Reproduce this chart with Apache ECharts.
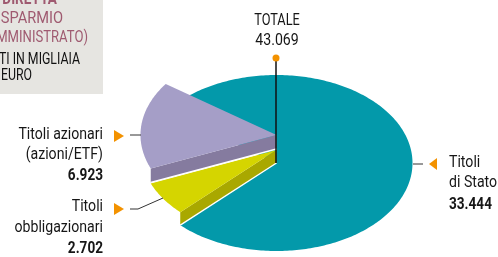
<!DOCTYPE html>
<html>
<head>
<meta charset="utf-8">
<script src="https://cdn.jsdelivr.net/npm/echarts@6/dist/echarts.min.js"></script>
<style>
    html, body { margin: 0; padding: 0; background: #fff; }
    #chart { width: 498px; height: 257px; }
</style>
</head>
<body>
<div id="chart"></div>
<script>
    // dati (migliaia di euro)
    var sliceNames = ['Titoli di Stato', 'Titoli obbligazionari', 'Titoli azionari'];
    var sliceValues = [33444, 2702, 6923];
    var labelLines = [['Titoli', 'di Stato'], ['Titoli', 'obbligazionari'], ['Titoli azionari', '(azioni/ETF)']];
    var valueTexts = ['33.444', '2.702', '6.923'];
    var totalTitle = 'TOTALE';
    var totalText = '43.069';
    var boxLines = ['DIRETTA', 'ISPARMIO', 'MMINISTRATO)', 'TI IN MIGLIAIA', 'EURO'];

    // aspetto
    var FONT = "Roboto, 'Noto Sans', sans-serif";
    var SQUEEZE = 0.83; // il font originale e' condensato
    var cx = 276.5, cy = 163, R = 136, K = 0.647;
    var startClock = -54.5;
    var topColors = ['#0399aa', '#d5d500', '#a59ec7'];
    var sideColors = [null, '#a9a800', '#857b9f'];
    var lift = [0, 13, 28];
    var depth = [0, 13, 14];
    var orange = '#f39200';

    var total = sliceValues.reduce(function (a, b) { return a + b; }, 0);

    function pt(c, r, up) {
        var a = c * Math.PI / 180;
        return [cx + r * Math.sin(a), cy - up - r * K * Math.cos(a)];
    }

    function renderSlice(params, api) {
        var i = params.dataIndex;
        var before = 0;
        for (var j = 0; j < i; j++) before += sliceValues[j];
        var c0 = startClock + before / total * 360;
        var c1 = c0 + api.value(0) / total * 360;
        var up = lift[i], d = depth[i];
        var top = [pt(0, 0, up)];
        for (var c = c0; c < c1; c += 1) top.push(pt(c, R, up));
        top.push(pt(c1, R, up));
        var children = [];
        if (d > 0) {
            var a = pt(c0, 0, up), b = pt(c0, R, up);
            var a2 = [a[0], a[1] + d], b2 = [b[0], b[1] + d];
            children.push({ type: 'polygon', shape: { points: [a, b, b2, a2] }, style: { fill: sideColors[i] } });
            children.push({ type: 'polyline', shape: { points: [a2, b2] }, style: { stroke: '#fff', lineWidth: 1.3, fill: null } });
        }
        children.push({ type: 'polygon', shape: { points: top }, style: { fill: topColors[i] } });
        return { type: 'group', children: children };
    }

    // y = linea di base del testo
    function txt(s, x, y, align, size, weight, color, sq) {
        return {
            type: 'text', z: 10,
            x: x, y: y - size * 0.36,
            scaleX: sq || SQUEEZE,
            style: {
                text: s, x: 0, y: 0, fill: color || '#161616',
                font: (weight || 'normal') + ' ' + size + 'px ' + FONT,
                textAlign: align, textVerticalAlign: 'middle',
                align: align, verticalAlign: 'middle'
            }
        };
    }

    function tri(pts) {
        return { type: 'polygon', z: 10, shape: { points: pts }, style: { fill: orange } };
    }

    function leader(pts) {
        return { type: 'polyline', z: 10, shape: { points: pts }, style: { stroke: '#333', lineWidth: 1, fill: null } };
    }

    var g = [];
    // riquadro grigio
    g.push({ type: 'rect', z: 1, shape: { x: 0, y: 0, width: 103, height: 94 }, style: { fill: '#e6e5e1' } });
    g.push(txt(boxLines[0], 57, 6, 'right', 17, 'bold', '#9f5a70', 0.8));
    g.push(txt(boxLines[1], 63, 25, 'right', 17, 'normal', '#9f5a70', 0.86));
    g.push(txt(boxLines[2], 88, 44, 'right', 17, 'normal', '#9f5a70', 0.77));
    g.push(txt(boxLines[3], 80, 66, 'right', 16, 'normal', '#111', 0.77));
    g.push(txt(boxLines[4], 32, 82, 'right', 16, 'normal', '#111', 0.77));

    // totale
    g.push(txt(totalTitle, 277, 27, 'center', 17, 'normal', null, 0.75));
    g.push(txt(totalText, 277, 47, 'center', 17));
    g.push({ type: 'line', z: 10, shape: { x1: 276, y1: 58, x2: 276, y2: 163 }, style: { stroke: '#111', lineWidth: 1.5 } });
    g.push({ type: 'circle', z: 11, shape: { cx: 276, cy: 58, r: 3.5 }, style: { fill: orange } });

    // Titoli di Stato
    g.push(leader([[413, 164], [423, 164]]));
    g.push(tri([[437, 158], [429, 164], [437, 170]]));
    g.push(txt(labelLines[0][0], 449, 169, 'left', 17));
    g.push(txt(labelLines[0][1], 449, 189, 'left', 17));
    g.push(txt(valueTexts[0], 449, 211, 'left', 17, 'bold', null, 0.8));

    // Titoli azionari
    g.push(leader([[130, 135], [141, 135]]));
    g.push(tri([[114, 130], [124, 136], [114, 142]]));
    g.push(txt(labelLines[2][0], 103, 141, 'right', 17));
    g.push(txt(labelLines[2][1], 103, 161, 'right', 17));
    g.push(txt(valueTexts[2], 103, 182, 'right', 17, 'bold', null, 0.8));

    // Titoli obbligazionari
    g.push(leader([[130, 209], [138, 209], [163, 198]]));
    g.push(tri([[114, 203], [124, 209], [114, 215]]));
    g.push(txt(labelLines[1][0], 103, 213, 'right', 17));
    g.push(txt(labelLines[1][1], 103, 234, 'right', 17));
    g.push(txt(valueTexts[1], 103, 255, 'right', 17, 'bold', null, 0.8));

    var chart = echarts.init(document.getElementById('chart'), null, { renderer: 'canvas' });
    var option = {
        animation: false,
        graphic: { elements: g },
        series: [{
            type: 'custom',
            coordinateSystem: 'none',
            renderItem: renderSlice,
            data: sliceValues.map(function (v, i) { return { name: sliceNames[i], value: [v] }; })
        }]
    };
    chart.setOption(option);
</script>
</body>
</html>
